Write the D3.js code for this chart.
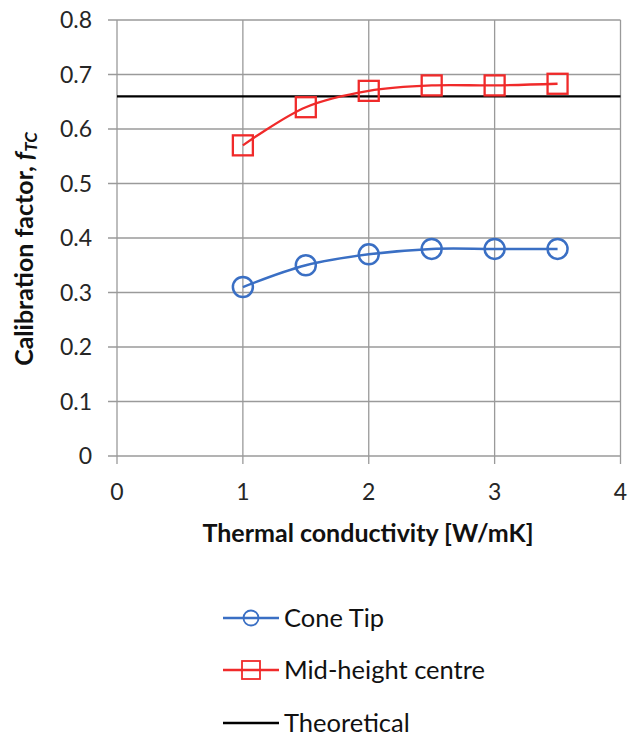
<!DOCTYPE html>
<html><head><meta charset="utf-8">
<script src="https://cdn.jsdelivr.net/npm/d3@7"></script>
<style>body{margin:0;background:#fff}svg{display:block}text{font-family:Lato,"Noto Sans",sans-serif}</style>
</head><body><svg id="c" width="629" height="736"></svg>
<script>
const conductivity = [1, 1.5, 2, 2.5, 3, 3.5];
const coneTip = [0.31, 0.35, 0.37, 0.38, 0.38, 0.38];
const midHeight = [0.57, 0.64, 0.67, 0.68, 0.68, 0.683];
const theoretical = 0.66;
const xTicks = [0, 1, 2, 3, 4];
const yTicks = [0, 0.1, 0.2, 0.3, 0.4, 0.5, 0.6, 0.7, 0.8];
const seriesNames = ["Cone Tip", "Mid-height centre", "Theoretical"];

const svg = d3.select("#c");
const x = d3.scaleLinear().domain([0, 4]).range([117, 620.5]);
const y = d3.scaleLinear().domain([0, 0.8]).range([456, 20]);
const grid = "#9a9a9a";

// grid
svg.append("g").selectAll("line").data(yTicks).join("line")
  .attr("x1", 108).attr("x2", x(4)).attr("y1", d => y(d)).attr("y2", d => y(d))
  .attr("stroke", grid).attr("stroke-width", 1.3);
svg.append("g").selectAll("line").data(xTicks).join("line")
  .attr("x1", d => x(d)).attr("x2", d => x(d)).attr("y1", y(0.8)).attr("y2", y(0) + 8)
  .attr("stroke", grid).attr("stroke-width", 1.3);

// tick labels
svg.append("g").selectAll("text").data(yTicks).join("text")
  .attr("x", 92).attr("y", d => y(d)).attr("dy", "0.36em").attr("text-anchor", "end")
  .attr("font-size", 23).attr("fill", "#262626").text(d => d === 0 ? "0" : d3.format(".1f")(d));
svg.append("g").selectAll("text").data(xTicks).join("text")
  .attr("x", d => x(d)).attr("y", 500).attr("text-anchor", "middle")
  .attr("font-size", 23).attr("fill", "#262626").text(d => d);

// axis titles
svg.append("text").attr("x", 368).attr("y", 542).attr("text-anchor", "middle")
  .attr("font-size", 25).attr("font-weight", "bold").attr("fill", "#111")
  .text("Thermal conductivity [W/mK]");
const yt = svg.append("text").attr("transform", "translate(33,249) rotate(-90)")
  .attr("text-anchor", "middle").attr("font-size", 25).attr("font-weight", "bold").attr("fill", "#111");
yt.append("tspan").text("Calibration factor, ");
yt.append("tspan").attr("font-style", "italic").text("f");
yt.append("tspan").attr("font-style", "italic").attr("font-size", 17).attr("dy", 4).text("TC");

// theoretical line
svg.append("line").attr("x1", x(0)).attr("x2", x(4)).attr("y1", y(theoretical)).attr("y2", y(theoretical))
  .attr("stroke", "#000").attr("stroke-width", 2.2);

const line = d3.line().x(d => x(d[0])).y(d => y(d[1])).curve(d3.curveCatmullRom.alpha(0.5));
const blue = "#3a6fc4", red = "#f02a2a";
const cData = conductivity.map((c, i) => [c, coneTip[i]]);
const mData = conductivity.map((c, i) => [c, midHeight[i]]);

svg.append("path").datum(mData).attr("d", line).attr("fill", "none").attr("stroke", red).attr("stroke-width", 2.3);
svg.append("g").selectAll("rect").data(mData).join("rect")
  .attr("x", d => x(d[0]) - 10).attr("y", d => y(d[1]) - 10).attr("width", 20).attr("height", 20)
  .attr("fill", "none").attr("stroke", red).attr("stroke-width", 2.3);

svg.append("path").datum(cData).attr("d", line).attr("fill", "none").attr("stroke", blue).attr("stroke-width", 2.5);
svg.append("g").selectAll("circle").data(cData).join("circle")
  .attr("cx", d => x(d[0])).attr("cy", d => y(d[1])).attr("r", 10)
  .attr("fill", "none").attr("stroke", blue).attr("stroke-width", 2.5);

// legend
const ly = [618, 670, 723];
const lg = svg.append("g");
lg.append("line").attr("x1", 223).attr("x2", 279).attr("y1", ly[0]).attr("y2", ly[0]).attr("stroke", blue).attr("stroke-width", 2.5);
lg.append("circle").attr("cx", 251).attr("cy", ly[0]).attr("r", 7.5).attr("fill", "none").attr("stroke", blue).attr("stroke-width", 1.8);
lg.append("line").attr("x1", 223).attr("x2", 279).attr("y1", ly[1]).attr("y2", ly[1]).attr("stroke", red).attr("stroke-width", 2.5);
lg.append("rect").attr("x", 242).attr("y", ly[1] - 9).attr("width", 18).attr("height", 18).attr("fill", "none").attr("stroke", red).attr("stroke-width", 1.8);
lg.append("line").attr("x1", 223).attr("x2", 279).attr("y1", ly[2]).attr("y2", ly[2]).attr("stroke", "#000").attr("stroke-width", 2.5);
lg.selectAll("text").data(seriesNames).join("text")
  .attr("x", 284).attr("y", (d, i) => ly[i]).attr("dy", "0.36em")
  .attr("font-size", 25.5).attr("fill", "#111").text(d => d);
</script></body></html>
